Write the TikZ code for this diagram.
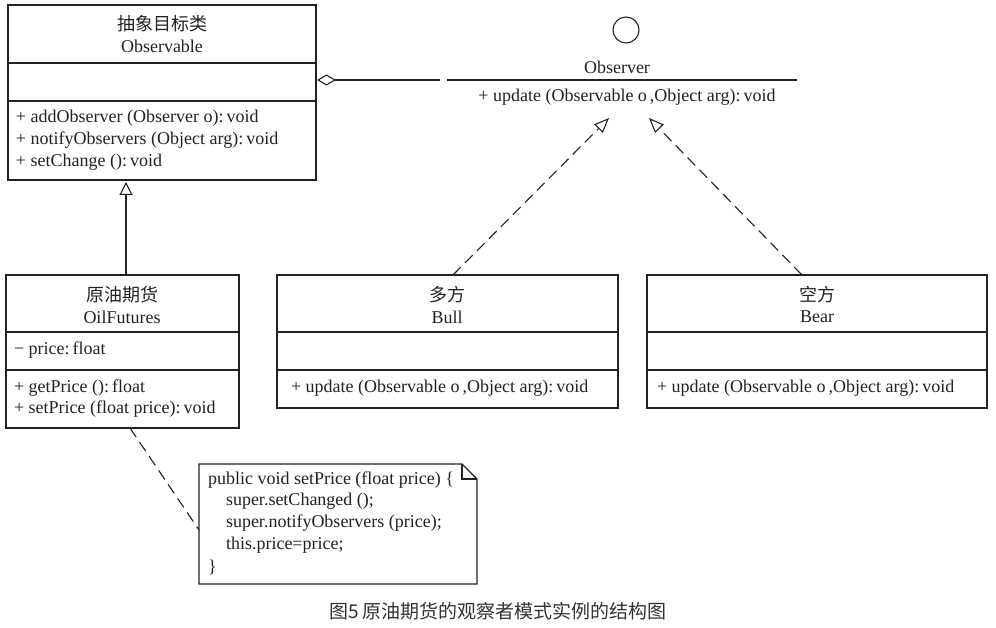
\documentclass[tikz,border=0pt]{standalone}
\usepackage{fontspec}
\setmainfont{Liberation Serif}
\newfontfamily\cjk{Noto Sans CJK SC}
\usetikzlibrary{arrows.meta}
\definecolor{ink}{HTML}{222222}
\definecolor{captext}{HTML}{333333}
\begin{document}
\begin{tikzpicture}[x=1pt,y=-1pt,
  every node/.style={inner sep=0pt, outer sep=0pt, text=ink, font=\fontsize{18}{21.5}\selectfont},
  umlbox/.style={draw=ink, rectangle, anchor=north west, line width=1.1pt},
  ln/.style={draw=ink, line width=1.1pt},
  meth/.style={anchor=west},
  dashln/.style={draw=ink, line width=1.1pt, dash pattern=on 11pt off 6pt},
  realize/.style={-{Triangle[open, length=15pt, width=12pt, line width=1.1pt]}},
  inherit/.style={-{Triangle[open, length=13pt, width=13pt, line width=1.1pt]}},
  aggr/.style={-{Diamond[open, length=19pt, width=11pt, line width=1.1pt]}}
]
\useasboundingbox (0,0) rectangle (996,628);

% Observable
\node[umlbox, minimum width=308pt, minimum height=175pt] (obs) at (8,5) {};
\draw[ln] (8,63) -- (316,63);
\draw[ln] (8,101) -- (316,101);
\node (obst1) at (162,24) {\cjk 抽象目标类};
\node (obst2) at (162,46) {Observable};
\node[meth] (obsm1) at (16,118) {+ addObserver (Observer o):\,void};
\node[meth] (obsm2) at (16,140) {+ notifyObservers (Object arg):\,void};
\node[meth] (obsm3) at (16,162) {+ setChange ():\,void};

% Observer interface
\node[draw=ink, line width=1.1pt, circle, minimum size=26pt] (ifc) at (626,30) {};
\node (ifname) at (617,67) {Observer};
\coordinate (ifL) at (447,80);
\coordinate (ifR) at (797,80);
\draw[ln] (ifL) -- (ifR);
\node (ifm) at (627,97) {+ update (Observable o\,,Object arg):\,void};
\coordinate (aggS) at (440,80);
\coordinate (aggE) at (317,80);
\draw[ln, aggr] (aggS) -- (aggE);
\coordinate (tipL) at (609,118);
\coordinate (tipR) at (649,118);

% OilFutures
\node[umlbox, minimum width=233pt, minimum height=153pt] (oil) at (6,275) {};
\draw[ln] (6,332) -- (239,332);
\draw[ln] (6,370) -- (239,370);
\node (oilt1) at (122,295) {\cjk 原油期货};
\node (oilt2) at (122,317) {OilFutures};
\node[meth] (oila) at (14,350) {− price:\,float};
\node[meth] (oilm1) at (14,388) {+ getPrice ():\,float};
\node[meth] (oilm2) at (14,409) {+ setPrice (float price):\,void};
\coordinate (gtop) at (126,182);
\coordinate (gbot) at (126,275);
\draw[ln, inherit] (gbot) -- (gtop);

% Bull
\node[umlbox, minimum width=341pt, minimum height=133pt] (bull) at (277,275) {};
\draw[ln] (277,332) -- (618,332);
\draw[ln] (277,370) -- (618,370);
\node (bullt1) at (447,295) {\cjk 多方};
\node (bullt2) at (447,317) {Bull};
\node[meth] (bullm) at (291,388) {+ update (Observable o\,,Object arg):\,void};
\coordinate (bullTop) at (453,275);
\draw[dashln, realize] (bullTop) -- (tipL);

% Bear
\node[umlbox, minimum width=340pt, minimum height=133pt] (bear) at (647,275) {};
\draw[ln] (647,332) -- (987,332);
\draw[ln] (647,370) -- (987,370);
\node (beart1) at (817,295) {\cjk 空方};
\node (beart2) at (817,317) {Bear};
\node[meth] (bearm) at (657,388) {+ update (Observable o\,,Object arg):\,void};
\coordinate (bearTop) at (802,275);
\draw[dashln, realize] (bearTop) -- (tipR);

% Note
\draw[ln, fill=white] (199,464) -- (462,464) -- (477,479) -- (477,584) -- (199,584) -- cycle;
\draw[ln] (462,464) -- (462,479) -- (477,479);
\node[meth] (n1) at (208,480) {public void setPrice (float price) \{};
\node[meth] (n2) at (226,501) {super.setChanged ();};
\node[meth] (n3) at (226,523) {super.notifyObservers (price);};
\node[meth] (n4) at (226,545) {this.price=price;};
\node[meth] (n5) at (208,567) {\}};
\coordinate (noteL) at (199,530);
\coordinate (oilB) at (130,428);
\draw[dashln] (oilB) -- (noteL);

% Caption
\node[text=captext, font=\cjk\fontsize{19}{22}\selectfont] (cap) at (498,611) {图5 原油期货的观察者模式实例的结构图};
\end{tikzpicture}
\end{document}
